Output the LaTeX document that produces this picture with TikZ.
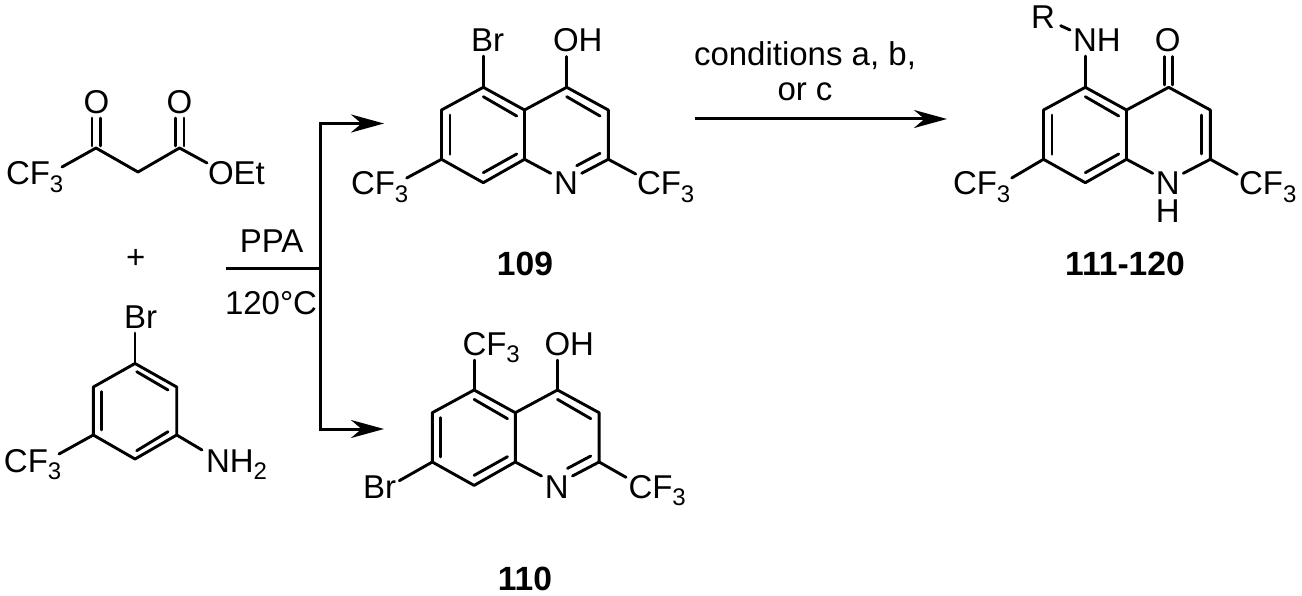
\documentclass[tikz,border=0pt]{standalone}
\usepackage{fontspec}
\setmainfont{Liberation Sans}
\usetikzlibrary{arrows.meta,calc}
\newcommand{\subthree}[1]{\raisebox{-7.6pt}{\fontsize{24}{26}\selectfont #1}}
\newcommand{\cfthree}{CF\subthree{3}}
\tikzset{
  bond/.style={draw=black,line width=2.9pt,line cap=round,line join=round},
  rxn/.style={draw=black,line width=3pt,line join=miter},
  tipped/.style={rxn,-{Stealth[length=33pt,width=18pt,inset=10.5pt]}},
  atom/.style={inner sep=0pt,outer sep=0pt,anchor=base west,text=black,font=\fontsize{33}{36}\selectfont},
  atomc/.style={atom,anchor=base},
  cpd/.style={atomc,font=\fontsize{33.6}{36}\selectfont\bfseries},
}
% Quinoline frame: carbocycle with its three inner double-bond lines and the C4a-C4, C4-C3, C3-C2 bonds
\newcommand{\quinolineframe}{%
  \coordinate (C5) at (483.3,87.3);
  \coordinate (C6) at (441.5,110);
  \coordinate (C7) at (441.5,159.3);
  \coordinate (C8) at (483.3,182.7);
  \coordinate (C8a) at (524.5,159.3);
  \coordinate (C4a) at (524.5,110);
  \coordinate (C4) at (566.7,87.3);
  \coordinate (C3) at (608.3,110);
  \coordinate (C2) at (608.3,159.3);
  \coordinate (Nl) at (550.7,173.3);
  \coordinate (i1) at (483.3,96.7);
  \coordinate (i2) at (516.7,116);
  \coordinate (i3) at (450,115);
  \coordinate (i4) at (450,154.3);
  \coordinate (i5) at (483.3,172.7);
  \coordinate (i6) at (516.7,154);
  \draw[bond] (C5) -- (C6) -- (C7) -- (C8) -- (C8a) -- (C4a) -- cycle;
  \draw[bond] (i1) -- (i2);
  \draw[bond] (i3) -- (i4);
  \draw[bond] (i5) -- (i6);
  \draw[bond] (C4a) -- (C4) -- (C3) -- (C2);
  \draw[bond] (C8a) -- (Nl);
}
% Pyridine-type ring: C3=C4 and C2=N
\newcommand{\pyridinedoubles}{%
  \coordinate (i7) at (566.7,96.7);
  \coordinate (i8) at (600,116);
  \coordinate (Nr) at (581.7,173.3);
  \coordinate (i9) at (600,153.3);
  \coordinate (i10) at (576.7,165.7);
  \draw[bond] (i7) -- (i8);
  \draw[bond] (C2) -- (Nr);
  \draw[bond] (i9) -- (i10);
}
\begin{document}
\begin{tikzpicture}[x=1pt,y=-1pt]
\useasboundingbox (0,0) rectangle (1302,596);
\fill[white] (0,0) rectangle (1302,596);

% ---------- ketoester ----------
\coordinate (kA) at (96,148);
\coordinate (kB) at (138,172);
\coordinate (kC) at (179.5,148);
\coordinate (kCF) at (62,167);
\coordinate (kOE) at (207,163);
\coordinate (kO1a) at (92,118);
\coordinate (kO1b) at (100.5,118);
\coordinate (kA1) at (92,146);
\coordinate (kA2) at (100.5,146);
\coordinate (kO2a) at (175.5,118);
\coordinate (kO2b) at (184,118);
\coordinate (kC1) at (175.5,146);
\coordinate (kC2) at (184,146);
\draw[bond] (kCF) -- (kA) -- (kB) -- (kC) -- (kOE);
\draw[bond] (kA1) -- (kO1a);
\draw[bond] (kA2) -- (kO1b);
\draw[bond] (kC1) -- (kO2a);
\draw[bond] (kC2) -- (kO2b);
\node[atom] (kcf3) at (6,185) {\cfthree};
\node[atomc] (ko1) at (96.5,114) {O};
\node[atomc] (ko2) at (179.5,114) {O};
\node[atom] (koet) at (208,185) {OEt};

\node[atomc] (plus) at (135.7,269) {+};

% ---------- aniline ----------
\coordinate (a1) at (135,363.5);
\coordinate (a2) at (176.7,387);
\coordinate (a3) at (176.7,435);
\coordinate (a4) at (135,459);
\coordinate (a5) at (93.3,435);
\coordinate (a6) at (93.3,387);
\coordinate (aBr) at (135,333);
\coordinate (aCF) at (59,454);
\coordinate (aN) at (202,450);
\coordinate (ai1) at (136.7,371.7);
\coordinate (ai2) at (168,390);
\coordinate (ai3) at (101.7,391.7);
\coordinate (ai4) at (101.7,430);
\coordinate (ai5) at (136.7,450.7);
\coordinate (ai6) at (168,431.7);
\draw[bond] (a1) -- (a2) -- (a3) -- (a4) -- (a5) -- (a6) -- cycle;
\draw[bond] (ai1) -- (ai2);
\draw[bond] (ai3) -- (ai4);
\draw[bond] (ai5) -- (ai6);
\draw[bond] (a1) -- (aBr);
\draw[bond] (a5) -- (aCF);
\draw[bond] (a3) -- (aN);
\node[atom] (abr) at (124,328) {Br};
\node[atom] (acf3) at (4,472) {\cfthree};
\node[atom] (anh2) at (206,472) {NH\subthree{2}};

% ---------- PPA branch ----------
\coordinate (startR) at (226,269);
\coordinate (jn) at (320,269);
\coordinate (topc) at (320,123.5);
\coordinate (botc) at (320,429);
\coordinate (topt) at (384,123.5);
\coordinate (bott) at (384,429);
\draw[rxn] (startR) -- (jn);
\draw[tipped] (jn) -- (topc) -- (topt);
\draw[tipped] (jn) -- (botc) -- (bott);
\node[atomc] (ppa) at (271.7,252.7) {PPA};
\node[atom] (temp) at (225,315) {120°C};

% ---------- 109 ----------
\begin{scope}[name prefix=p-]
  \quinolineframe
  \pyridinedoubles
  \coordinate (brb) at (483.3,56);
  \coordinate (ohb) at (566.7,56.5);
  \coordinate (cfl) at (406.7,178);
  \coordinate (cfr) at (635.7,174);
  \draw[bond] (C5) -- (brb);
  \draw[bond] (C4) -- (ohb);
  \draw[bond] (C7) -- (cfl);
  \draw[bond] (C2) -- (cfr);
\end{scope}
\node[atom] (p-br) at (471,51.7) {Br};
\node[atom] (p-oh) at (553,51.7) {OH};
\node[atom] (p-cfl) at (351,195) {\cfthree};
\node[atomc] (p-n) at (566,195) {N};
\node[atom] (p-cfr) at (637,195) {\cfthree};
\node[cpd] (c109) at (525,276) {109};

% ---------- 110 ----------
\begin{scope}[shift={(-9.2,302.7)},name prefix=q-]
  \quinolineframe
  \pyridinedoubles
  \coordinate (cft) at (483.3,57.5);
  \coordinate (ohb) at (566.7,57.5);
  \coordinate (brb) at (408.5,178);
  \coordinate (cfr) at (635.2,174.6);
  \draw[bond] (C5) -- (cft);
  \draw[bond] (C4) -- (ohb);
  \draw[bond] (C7) -- (brb);
  \draw[bond] (C2) -- (cfr);
\end{scope}
\node[atom] (q-cf) at (462.5,355) {\cfthree};
\node[atom] (q-oh) at (544.5,355) {OH};
\node[atom] (q-br) at (363,498.3) {Br};
\node[atomc] (q-n) at (556.7,498.3) {N};
\node[atom] (q-cfr) at (628.5,498.3) {\cfthree};
\node[cpd] (c110) at (525,590) {110};

% ---------- reaction arrow ----------
\coordinate (arrS) at (695,119);
\coordinate (arrE) at (947,119);
\draw[tipped] (arrS) -- (arrE);
\node[atomc] (cond1) at (805,66) {conditions a, b,};
\node[atomc] (cond2) at (805,101) {or c};

% ---------- 111-120 ----------
\begin{scope}[shift={(602,0)},name prefix=r-]
  \quinolineframe
  \coordinate (nhb) at (483.3,56);
  \coordinate (cfl) at (409.7,178);
  \coordinate (cfr) at (635.3,174.3);
  \coordinate (Nr) at (581.3,173.3);
  \coordinate (i11) at (599.7,115);
  \coordinate (i12) at (599.7,154);
  \coordinate (o1) at (562.3,56.7);
  \coordinate (o2) at (570.3,56.7);
  \coordinate (c1) at (562.3,85);
  \coordinate (c2) at (570.3,85);
  \coordinate (rb1) at (458.7,25.7);
  \coordinate (rb2) at (468,30);
  \draw[bond] (C5) -- (nhb);
  \draw[bond] (C7) -- (cfl);
  \draw[bond] (C2) -- (cfr);
  \draw[bond] (C2) -- (Nr);
  \draw[bond] (i11) -- (i12);
  \draw[bond] (c1) -- (o1);
  \draw[bond] (c2) -- (o2);
  \draw[bond] (rb1) -- (rb2);
\end{scope}
\node[atom] (r-r) at (1031,28.3) {R};
\node[atom] (r-nh) at (1073,51.7) {NH};
\node[atomc] (r-o) at (1167.7,51.7) {O};
\node[atom] (r-cfl) at (953,195) {\cfthree};
\node[atomc,align=center,font=\fontsize{33}{27.7}\selectfont] (r-nh2) at (1167.7,222.7) {N\\H};
\node[atom] (r-cfr) at (1239,195) {\cfthree};
\node[cpd] (c111) at (1125,276) {111-120};
\end{tikzpicture}
\end{document}
